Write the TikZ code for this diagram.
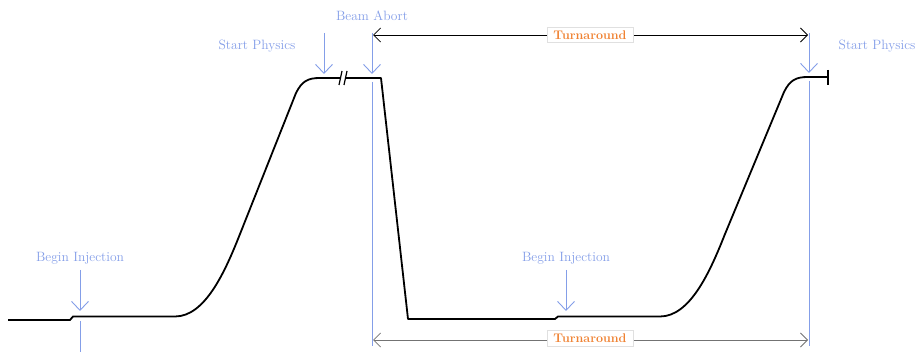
\documentclass[tikz,border=0pt]{standalone}
\usetikzlibrary{arrows.meta}
\definecolor{markblue}{RGB}{132,158,232}
\definecolor{turnorange}{RGB}{240,130,50}
\tikzset{every picture/.style={line width=0.75pt},
  lbl/.style={text=markblue,inner sep=0.75pt,font=\fontsize{13.5}{16}\selectfont},
  marker/.style={draw=markblue,line width=1pt,-{Straight Barb[length=9pt,width=17pt,line width=0.9pt]}},
  guide/.style={draw=markblue,line width=1pt},
  span/.style={line width=0.8pt,{Straight Barb[length=7pt,width=14pt]}-{Straight Barb[length=7pt,width=14pt]}},
  tbox/.style={draw=black!12,fill=white,text=turnorange,inner xsep=6.5pt,inner ysep=3.5pt,font=\fontsize{12.5}{15}\selectfont\bfseries}}

\begin{document}
\begin{tikzpicture}[x=1pt,y=1pt,yscale=-1,xscale=1]
		\useasboundingbox (0,0) rectangle (915,352);
		
		%Curve: beam cycle
		\draw [line width=1.8pt, line join=round] (8,320) -- (70,320) -- (73,316.5) -- (175,316.5) .. controls (205,316.5) and (225,272) .. (240,234) -- (296,93) .. controls (302,81) and (308,78) .. (320,78) -- (381,78) -- (408,319) -- (555,319) -- (558,316.5) -- (660,316.5) .. controls (690,316.5) and (710,272) .. (725,234) -- (784,92) .. controls (790,80) and (796,77) .. (808,77) -- (828,77) ;
		%Break marks
		\fill [white] (341,72) -- (346,72) -- (345,84) -- (340,84) -- cycle ;
		\draw [line width=1.2pt] (339,85) -- (342,71) ;
		\draw [line width=1.2pt] (344,85) -- (347,71) ;
		%End tick
		\draw [line width=1.8pt] (828,70) -- (828,85) ;
		
		% Text Node
		\node [lbl] (inj1) at (80,258) {Begin Injection};
		% Text Node
		\node [lbl] (phys1) at (257,46) {Start Physics};
		% Text Node
		\node [lbl] (abort) at (372,16) {Beam Abort};
		% Text Node
		\node [lbl] (phys2) at (877,46) {Start Physics};
		% Text Node
		\node [lbl] (inj2) at (566,258) {Begin Injection};
		
		%Markers
		\coordinate (inj1a) at (80,270); \coordinate (inj1b) at (80,311);
		\coordinate (inj1c) at (80,321); \coordinate (inj1d) at (80,352);
		\draw [marker] (inj1a) -- (inj1b) ;
		\draw [guide] (inj1c) -- (inj1d) ;
		\coordinate (phys1a) at (324,33); \coordinate (phys1b) at (324,74);
		\draw [marker] (phys1a) -- (phys1b) ;
		\coordinate (aborta) at (372,33); \coordinate (abortb) at (372,74);
		\coordinate (abortc) at (372,82); \coordinate (abortd) at (372,346);
		\draw [marker] (aborta) -- (abortb) ;
		\draw [guide] (abortc) -- (abortd) ;
		\coordinate (phys2a) at (809,33); \coordinate (phys2b) at (809,73);
		\coordinate (phys2c) at (809,81); \coordinate (phys2d) at (809,346);
		\draw [marker] (phys2a) -- (phys2b) ;
		\draw [guide] (phys2c) -- (phys2d) ;
		\coordinate (inj2a) at (566,270); \coordinate (inj2b) at (566,311);
		\draw [marker] (inj2a) -- (inj2b) ;
		
		%Turnaround spans
		\coordinate (topl) at (373,35); \coordinate (topr) at (808,35);
		\draw [span] (topl) -- (topr) ;
		\node [tbox] (turntop) at (590,35) {Turnaround};
		\coordinate (botl) at (373,340); \coordinate (botr) at (808,340);
		\draw [span, draw=black!55] (botl) -- (botr) ;
		\node [tbox] (turnbot) at (590,338) {Turnaround};
		
	\end{tikzpicture}
\end{document}
